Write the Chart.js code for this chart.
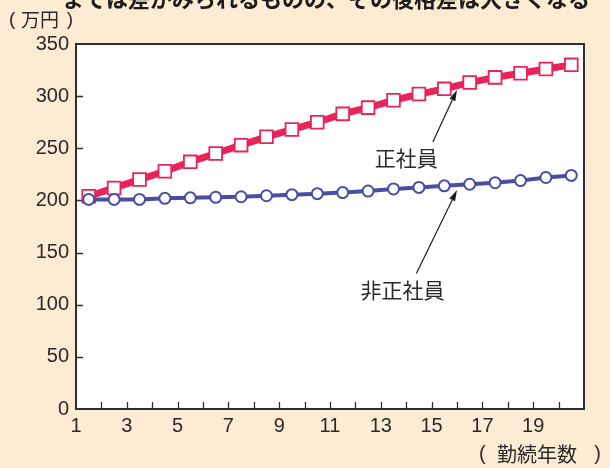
<!DOCTYPE html>
<html>
<head>
<meta charset="utf-8">
<script src="https://cdn.jsdelivr.net/npm/chart.js@4/dist/chart.umd.min.js"></script>
<style>
  html, body { margin: 0; padding: 0; background: #fdebd3; }
  #wrap { width: 610px; height: 468px; position: relative; }
</style>
</head>
<body>
<div id="wrap"><canvas id="c" width="610" height="468"></canvas></div>
<script>
// 勤続年数（各年の中央に点を置く）
const years = [1.5, 2.5, 3.5, 4.5, 5.5, 6.5, 7.5, 8.5, 9.5, 10.5,
               11.5, 12.5, 13.5, 14.5, 15.5, 16.5, 17.5, 18.5, 19.5, 20.5];
// 正社員の賃金（万円）
const regular = [204, 212, 220, 228, 237, 245, 253, 261, 268, 275,
                 283, 289, 296, 302, 307, 313, 318, 322, 326, 330];
// 非正社員の賃金（万円）
const nonRegular = [201, 201, 201, 202, 202.5, 203, 203.5, 204.5, 205.5, 206.5,
                    207.5, 209, 211, 212.5, 214, 215.5, 217, 219, 222, 224];
// 目盛
const xTickLabels = [1, 3, 5, 7, 9, 11, 13, 15, 17, 19];
const xMinorTicks = [2, 3, 4, 5, 6, 7, 8, 9, 10, 11, 12, 13, 14, 15, 16, 17, 18, 19, 20];
const yTicks = [50, 100, 150, 200, 250, 300];

// 注記（データ座標）
const notes = [
  { text: '正社員',   label: { x: 14.0, y: 241 }, from: { x: 15.05, y: 256 }, to: { x: 16.0, y: 306 } },
  { text: '非正社員', label: { x: 13.85, y: 114 }, from: { x: 14.4, y: 130 }, to: { x: 16.0, y: 210 } }
];

const PEACH = '#fdebd3';
const FRAME = '#2f2f2f';
const RED = '#e8245a';
const BLUE = '#4a4ea2';
const TEXT = '#2a2a2a';
const NUM_FONT = '"Liberation Sans", Arial, sans-serif';
const JP_FONT = '"Noto Sans CJK JP", "Noto Sans", sans-serif';

// 半角かっこで囲んだ単位ラベル
function unitLabel(ctx, words, leftParenX, wordsX, rightParenX, y, size) {
  ctx.textBaseline = 'middle';
  ctx.font = size + 'px ' + NUM_FONT;
  ctx.textAlign = 'left';
  ctx.fillText('(', leftParenX, y);
  ctx.textAlign = 'right';
  ctx.fillText(')', rightParenX, y);
  ctx.font = size + 'px ' + JP_FONT;
  ctx.textAlign = 'left';
  ctx.fillText(words, wordsX, y);
}

const decor = {
  id: 'decor',
  beforeDraw(chart) {
    const { ctx, chartArea: a } = chart;
    ctx.save();
    ctx.fillStyle = PEACH;
    ctx.fillRect(0, 0, chart.width, chart.height);
    ctx.fillStyle = '#ffffff';
    ctx.fillRect(a.left, a.top, a.right - a.left, a.bottom - a.top);
    ctx.restore();
  },
  beforeDatasetsDraw(chart) {
    const { ctx, chartArea: a, scales } = chart;
    ctx.save();
    ctx.strokeStyle = FRAME;
    ctx.lineWidth = 1.3;
    // 内向きの目盛線
    ctx.beginPath();
    xMinorTicks.forEach(v => {
      const x = Math.round(scales.x.getPixelForValue(v)) + 0.5;
      ctx.moveTo(x, a.bottom);
      ctx.lineTo(x, a.bottom - 7);
    });
    yTicks.forEach(v => {
      const y = Math.round(scales.y.getPixelForValue(v)) + 0.5;
      ctx.moveTo(a.left, y);
      ctx.lineTo(a.left + 7, y);
    });
    ctx.stroke();
    // 上辺・右辺の枠
    ctx.lineWidth = 2;
    ctx.beginPath();
    ctx.moveTo(a.left, a.top);
    ctx.lineTo(a.right, a.top);
    ctx.lineTo(a.right, a.bottom);
    ctx.stroke();
    ctx.restore();
  },
  afterDraw(chart) {
    const { ctx, scales } = chart;
    const px = p => ({ x: scales.x.getPixelForValue(p.x), y: scales.y.getPixelForValue(p.y) });
    ctx.save();
    // 注記の矢印とラベル
    notes.forEach(n => {
      const f = px(n.from), t = px(n.to), l = px(n.label);
      const ang = Math.atan2(t.y - f.y, t.x - f.x);
      const len = 11, hw = 3.2;
      const bx = t.x - len * Math.cos(ang), by = t.y - len * Math.sin(ang);
      ctx.strokeStyle = '#1e1e1e';
      ctx.fillStyle = '#1e1e1e';
      ctx.lineWidth = 1.2;
      ctx.beginPath();
      ctx.moveTo(f.x, f.y);
      ctx.lineTo(bx, by);
      ctx.stroke();
      ctx.beginPath();
      ctx.moveTo(t.x, t.y);
      ctx.lineTo(bx + hw * Math.sin(ang), by - hw * Math.cos(ang));
      ctx.lineTo(bx - hw * Math.sin(ang), by + hw * Math.cos(ang));
      ctx.closePath();
      ctx.fill();
      ctx.fillStyle = TEXT;
      ctx.font = '21px ' + JP_FONT;
      ctx.textAlign = 'center';
      ctx.textBaseline = 'middle';
      ctx.fillText(n.text, l.x, l.y);
    });
    // 軸の単位
    ctx.fillStyle = TEXT;
    unitLabel(ctx, '万円', 9, 21, 73, 20, 19);
    unitLabel(ctx, '勤続年数', 479, 497, 601, 454, 20);
    // 上端の見出し（上が切れている）
    ctx.font = 'bold 22px ' + JP_FONT;
    ctx.textAlign = 'left';
    ctx.textBaseline = 'alphabetic';
    ctx.fillStyle = '#1c1c1c';
    ctx.fillText('までは差がみられるものの、その後格差は大きくなる', 62, 7);
    ctx.restore();
  }
};

new Chart(document.getElementById('c'), {
  type: 'line',
  data: {
    datasets: [
      {
        label: '正社員',
        data: years.map((x, i) => ({ x, y: regular[i] })),
        borderColor: RED,
        borderWidth: 7,
        pointStyle: 'rect',
        pointRadius: 9,
        pointBorderWidth: 1.8,
        pointBorderColor: RED,
        pointBackgroundColor: '#ffffff',
        tension: 0,
        order: 2
      },
      {
        label: '非正社員',
        data: years.map((x, i) => ({ x, y: nonRegular[i] })),
        borderColor: BLUE,
        borderWidth: 4,
        pointStyle: 'circle',
        pointRadius: 5.5,
        pointBorderWidth: 2,
        pointBorderColor: BLUE,
        pointBackgroundColor: '#ffffff',
        tension: 0,
        order: 1
      }
    ]
  },
  options: {
    responsive: false,
    devicePixelRatio: 1,
    animation: false,
    layout: { padding: { top: 44, right: 26, left: 0, bottom: 0 } },
    plugins: { legend: { display: false }, tooltip: { enabled: false } },
    scales: {
      x: {
        type: 'linear',
        min: 1,
        max: 21,
        grid: { display: true, drawOnChartArea: false, drawTicks: false },
        border: { display: true, color: FRAME, width: 2 },
        ticks: {
          stepSize: 2,
          padding: 5,
          color: TEXT,
          font: { family: NUM_FONT, size: 20 },
          maxRotation: 0,
          autoSkip: false,
          callback: v => xTickLabels.includes(v) ? String(v) : ''
        },
        afterFit: s => { s.height = 59; }
      },
      y: {
        min: 0,
        max: 350,
        grid: { display: true, drawOnChartArea: false, drawTicks: false },
        border: { display: true, color: FRAME, width: 2 },
        ticks: {
          stepSize: 50,
          padding: 7,
          color: TEXT,
          font: { family: NUM_FONT, size: 20 }
        },
        afterFit: s => { s.width = 76; }
      }
    }
  },
  plugins: [decor]
});
</script>
</body>
</html>
